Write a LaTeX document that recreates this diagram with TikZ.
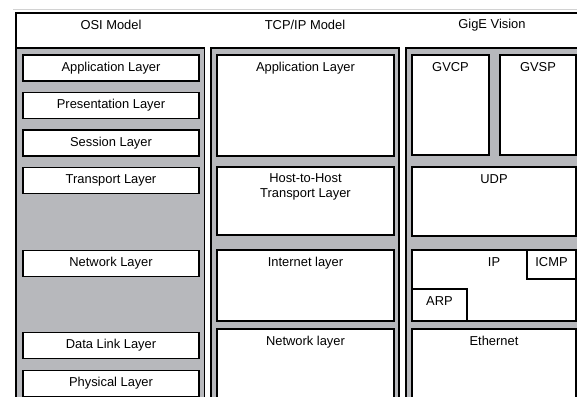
\documentclass[tikz,border=0pt]{standalone}
\usepackage{fontspec}
\setmainfont{Liberation Sans}
\definecolor{colgray}{RGB}{183,184,188}

\begin{document}
\begin{tikzpicture}[x=1pt,y=-1pt,shape=rectangle,line width=1.3pt,
font=\fontsize{12.9}{15}\selectfont,node distance=37.5pt,
column/.style={draw, fill=colgray, anchor=north west, inner sep=0pt, outer sep=0pt},
osiLayer/.style={draw, fill=white, minimum width=176pt, minimum height=26pt, inner sep=0pt},
block/.style={draw, fill=white, anchor=north west, inner sep=0pt, outer sep=0pt},
caption/.style={anchor=north, inner sep=0pt, align=center}]
\useasboundingbox (0,0) rectangle (577,396);

\draw[gray!35, line width=0.8pt] (13,9.5) -- (600,9.5);
\node (frame) [block, minimum width=600pt, minimum height=420pt] at (16,13) {};

\node (osiCol) [column, minimum width=188pt, minimum height=380pt] at (16.5,48) {};
\node (tcpCol) [column, minimum width=188pt, minimum height=380pt] at (211,48) {};
\node (gigeCol) [column, minimum width=200pt, minimum height=380pt] at (406,48) {};

\node (osiHead) at (111,25) {OSI Model};
\node (tcpHead) at (305,25) {TCP/IP Model};
\node (gigeHead) at (492,25) {GigE Vision};

\node (osiApp) [osiLayer] at (111,68) {Application Layer};
\node (osiPres) [osiLayer, below of=osiApp] {Presentation Layer};
\node (osiSess) [osiLayer, below of=osiPres] {Session Layer};
\node (osiTrans) [osiLayer, below of=osiSess] {Transport Layer};
\node (osiNet) [osiLayer, node distance=83pt, below of=osiTrans] {Network Layer};
\node (osiLink) [osiLayer, node distance=82pt, below of=osiNet] {Data Link Layer};
\node (osiPhys) [osiLayer, node distance=38pt, below of=osiLink] {Physical Layer};

\node (tcpApp) [block, minimum width=177pt, minimum height=101pt] at (217,55) {};
\node (tcpHost) [block, minimum width=177pt, minimum height=68pt] at (217,167) {};
\node (tcpInet) [block, minimum width=177pt, minimum height=71pt] at (217,250) {};
\node (tcpNet) [block, minimum width=177pt, minimum height=90pt] at (217,329) {};

\node (gvcp) [block, minimum width=77pt, minimum height=100pt] at (412,55) {};
\node (gvsp) [block, minimum width=76pt, minimum height=100pt] at (500,55) {};
\node (udp) [block, minimum width=164pt, minimum height=69pt] at (412,167) {};
\node (ip) [block, minimum width=164pt, minimum height=71pt] at (412,250) {};
\node (icmp) [block, minimum width=49pt, minimum height=29pt] at (527,250) {};
\node (arp) [block, minimum width=55pt, minimum height=32pt] at (412,289) {};
\node (ethernet) [block, minimum width=164pt, minimum height=90pt] at (412,329) {};

\node (tcpAppText) [caption] at ([yshift=-6.5pt]tcpApp.north) {Application Layer};
\node (tcpHostText) [caption] at ([yshift=-6pt]tcpHost.north) {Host-to-Host\\Transport Layer};
\node (tcpInetText) [caption] at ([yshift=-6.5pt]tcpInet.north) {Internet layer};
\node (tcpNetText) [caption] at ([yshift=-6.5pt]tcpNet.north) {Network layer};

\node (gvcpText) [caption] at ([yshift=-6.5pt]gvcp.north) {GVCP};
\node (gvspText) [caption] at ([yshift=-6.5pt]gvsp.north) {GVSP};
\node (udpText) [caption] at ([yshift=-6.5pt]udp.north) {UDP};
\node (ipText) [caption] at ([yshift=-6.5pt]ip.north) {IP};
\node (icmpText) [caption] at ([yshift=-6.5pt]icmp.north) {ICMP};
\node (arpText) [caption] at ([yshift=-6.5pt]arp.north) {ARP};
\node (ethernetText) [caption] at ([yshift=-6.5pt]ethernet.north) {Ethernet};
\end{tikzpicture}
\end{document}
